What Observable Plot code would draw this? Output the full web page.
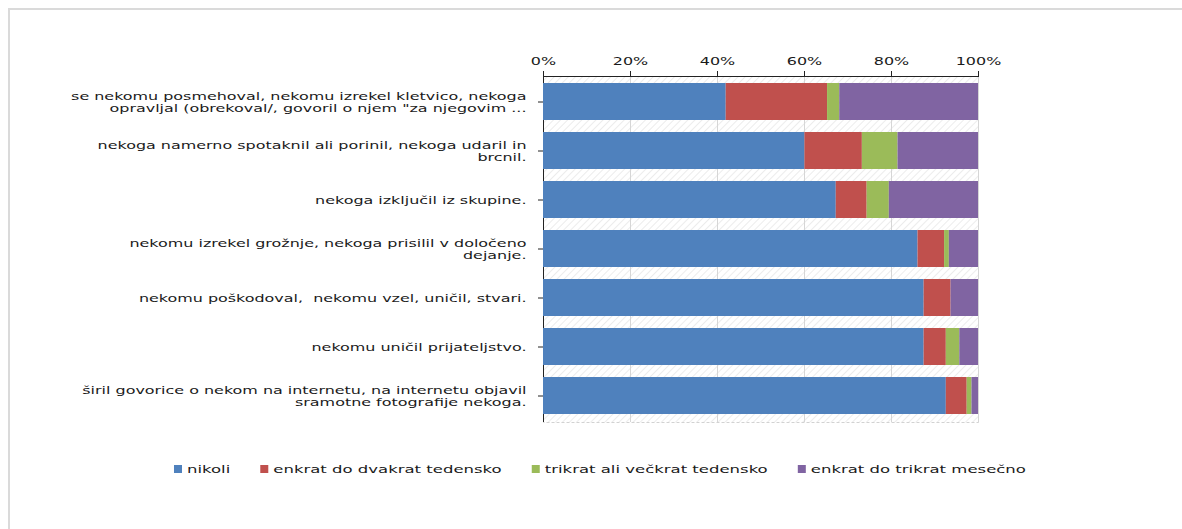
<!DOCTYPE html>
<html><head><meta charset="utf-8">
<script src="https://cdn.jsdelivr.net/npm/d3@7"></script>
<script src="https://cdn.jsdelivr.net/npm/@observablehq/plot@0.6"></script>
<style>
body{margin:0;background:#fff;font-family:"DejaVu Sans",Verdana,sans-serif;}
#wrap{position:relative;width:1182px;height:529px;overflow:hidden;background:#fff}
#border{position:absolute;left:8px;top:8px;width:1300px;height:700px;border-left:2px solid #dadada;border-top:2px solid #dadada;pointer-events:none;z-index:2}
#chart svg,#legend svg{display:block}
</style></head><body>
<div id="wrap"><div id="border"></div><div id="chart"></div><div id="legend"></div></div>
<script>
const categories = [
  "se nekomu posmehoval, nekomu izrekel kletvico, nekoga\nopravljal (obrekoval/, govoril o njem \"za njegovim ...",
  "nekoga namerno spotaknil ali porinil, nekoga udaril in\nbrcnil.",
  "nekoga izključil iz skupine.",
  "nekomu izrekel grožnje, nekoga prisilil v določeno\ndejanje.",
  "nekomu poškodoval,  nekomu vzel, uničil, stvari.",
  "nekomu uničil prijateljstvo.",
  "širil govorice o nekom na internetu, na internetu objavil\nsramotne fotografije nekoga."
];
const series = ["nikoli", "enkrat do dvakrat tedensko", "trikrat ali večkrat tedensko", "enkrat do trikrat mesečno"];
const nikoli          = [42.0, 60.1, 67.3, 86.1, 87.5, 87.5, 92.6];
const enkratDvakrat   = [23.3, 13.2,  7.1,  6.1,  6.2,  5.1,  4.8];
const trikratVeckrat  = [ 2.8,  8.2,  5.1,  1.1,  0.0,  3.1,  1.1];
const mesecno         = [31.9, 18.5, 20.5,  6.7,  6.3,  4.3,  1.5];
const xTicks = [0, 20, 40, 60, 80, 100];
const colors = ["#4F81BD", "#C0504D", "#9BBB59", "#8064A2"];

const seriesValues = [nikoli, enkratDvakrat, trikratVeckrat, mesecno];
const data = categories.flatMap((c, i) => series.map((s, j) => ({category: c, series: s, value: seriesValues[j][i]})));

const SX = 1.45;
const FONT = '"DejaVu Sans", Verdana, sans-serif';

const svg = Plot.plot({
  width: 1182, height: 440,
  marginLeft: 543, marginRight: 204, marginTop: 76, marginBottom: 18,
  style: {fontFamily: FONT, fontSize: "11px", color: "#1a1a1a", background: "transparent", overflow: "visible"},
  x: {domain: [0, 100]},
  y: {domain: categories, paddingInner: 0.24, paddingOuter: 0.12},
  color: {domain: series, range: colors},
  marks: [
    Plot.frame({fill: "url(#hatch)", stroke: "#d2d2d2", strokeDasharray: "3,2"}),
    Plot.gridX({ticks: xTicks.slice(1), stroke: "#d6d6d6", strokeOpacity: 1}),
    Plot.ruleX([0], {stroke: "#222"}),
    Plot.barX(data, {y: "category", x: "value", fill: "series"}),
    Plot.axisX({anchor: "top", ticks: xTicks, tickFormat: d => d + "%", tickSize: 6, tickPadding: 6, label: null, stroke: "#222"}),
    Plot.frame({anchor: "top", stroke: "#222"}),
    Plot.axisY({anchor: "left", tickSize: 5, tickPadding: 12, label: null, lineHeight: 1.1, stroke: "#222"})
  ]
});

const defs = d3.select(svg).insert("defs", ":first-child");
const pat = defs.append("pattern").attr("id", "hatch").attr("patternUnits", "userSpaceOnUse")
  .attr("width", 5).attr("height", 5).attr("patternTransform", "rotate(45)");
pat.append("rect").attr("width", 5).attr("height", 5).attr("fill", "#fff");
pat.append("line").attr("x1", 0).attr("y1", 0).attr("x2", 0).attr("y2", 5).attr("stroke", "#e6e6e6").attr("stroke-width", 1.5);

document.getElementById("chart").appendChild(svg);

svg.querySelectorAll('g[aria-label="y-axis tick label"] text, g[aria-label="x-axis tick label"] text').forEach(t => {
  const tr = t.getAttribute("transform") || "";
  const x = parseFloat(t.getAttribute("x")) || 0;
  t.setAttribute("transform", `${tr} translate(${x},0) scale(${SX},1) translate(${-x},0)`);
});

// legend
const LSX = 1.5;
const leg = d3.select("#legend").append("svg").attr("width", 1182).attr("height", 89)
  .style("font-family", FONT).style("font-size", "11px");
const sq = 8, gapSq = 5, gapItem = 30, cy = 29, centerX = 600;
const items = series.map((s, i) => {
  const g = leg.append("g");
  g.append("rect").attr("width", sq).attr("height", sq).attr("y", cy - sq / 2).attr("fill", colors[i]);
  const t = g.append("text").attr("y", cy).attr("dy", "0.35em").attr("fill", "#1a1a1a").text(s);
  const w = t.node().getComputedTextLength() * LSX;
  t.attr("transform", `translate(${sq + gapSq},0) scale(${LSX},1)`);
  return {g, w: sq + gapSq + w};
});
const total = d3.sum(items, d => d.w) + gapItem * (items.length - 1);
let cx = centerX - total / 2;
items.forEach(it => { it.g.attr("transform", `translate(${cx},0)`); cx += it.w + gapItem; });
</script>
</body></html>
